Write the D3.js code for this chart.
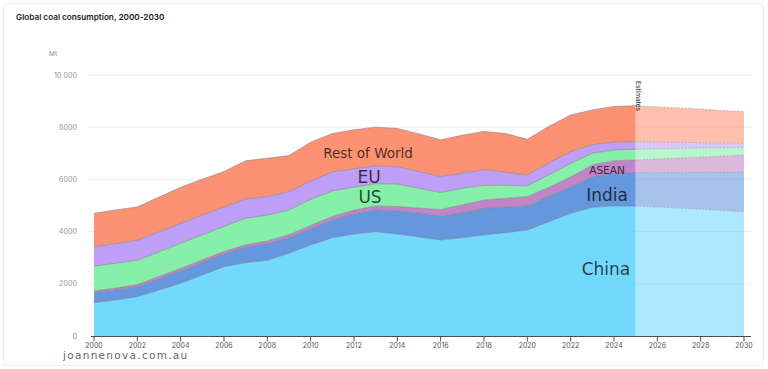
<!DOCTYPE html>
<html><head><meta charset="utf-8">
<script src="https://cdn.jsdelivr.net/npm/d3@7"></script>
<style>
html,body{margin:0;padding:0;background:#fff;}
svg{display:block;}
</style></head>
<body>
<svg id="chart" width="768" height="369"></svg>
<script>
const years = d3.range(2000, 2031);
const china = [1277,1380,1506,1760,2018,2340,2656,2810,2900,3168,3487,3767,3908,3997,3908,3793,3678,3767,3870,3959,4061,4380,4700,4930,4981,4981,4940,4900,4860,4810,4764];
const india = [383,385,384,430,472,480,486,588,640,600,620,677,766,831,894,907,920,958,1022,984,920,980,1010,1175,1252,1277,1320,1365,1410,1460,1507];
const asean = [64,70,80,90,100,100,95,95,103,115,127,135,150,153,160,200,250,300,320,335,357,340,383,447,485,485,520,555,590,625,664];
const us = [956,950,932,945,959,960,958,1021,984,950,1000,980,880,850,860,760,650,640,560,500,410,480,520,450,410,409,390,365,345,320,300];
const eu = [740,755,766,766,766,755,742,741,714,701,702,728,703,689,664,638,612,570,600,500,420,450,450,330,300,294,265,235,205,175,150];
const restOfWorld = [1280,1290,1277,1330,1382,1375,1366,1456,1470,1378,1490,1468,1494,1482,1469,1444,1406,1456,1468,1481,1366,1404,1405,1330,1366,1379,1350,1320,1290,1250,1213];
const estimateStart = 2025;
const yTicks = [0,2000,4000,6000,8000,10000];
const yTickLabels = ["0","2000","4000","6000","8000","10 000"];
const xTicks = d3.range(2000, 2031, 2);
const seriesKeys = ["China","India","ASEAN","US","EU","Rest of World"];
const seriesValues = [china, india, asean, us, eu, restOfWorld];
const colors = ["#72d9fd","#6597dc","#c185c6","#87f0a8","#bf9ef5","#fd9272"];

const table = years.map((yr, i) => {
  const row = {year: yr};
  seriesKeys.forEach((k, j) => row[k] = seriesValues[j][i]);
  return row;
});

const svg = d3.select("#chart");
const x = d3.scaleLinear().domain([2000, 2030]).range([94, 744]);
const y = d3.scaleLinear().domain([0, 10000]).range([336, 75]);

svg.append("rect").attr("x",3.5).attr("y",3.5).attr("width",760).attr("height",362)
  .attr("rx",4).attr("fill","none").attr("stroke","#ececec");

svg.append("text").attr("x",16).attr("y",20)
  .attr("font-family","Inter, 'Open Sans', sans-serif").attr("font-size",8.2).attr("font-weight",600)
  .attr("fill","#222").text("Global coal consumption, 2000-2030");

svg.append("text").attr("x",49).attr("y",56)
  .attr("font-family","Inter, sans-serif").attr("font-size",6.5).attr("fill","#888").text("Mt");

const grid = svg.append("g");
grid.selectAll("line").data(yTicks.filter(d=>d>0)).join("line")
  .attr("x1",88).attr("x2",752).attr("y1",d=>y(d)).attr("y2",d=>y(d))
  .attr("stroke","#ececec").attr("stroke-width",1);
grid.selectAll("text").data(yTicks).join("text")
  .attr("x",77).attr("y",d=>y(d)).attr("dy","0.35em").attr("text-anchor","end")
  .attr("font-family","Inter, sans-serif").attr("font-size",7.2).attr("fill","#999")
  .text((d,i)=>yTickLabels[i]);

const stack = d3.stack().keys(seriesKeys);
const layers = stack(table);

const area = d3.area().x(d=>x(d.data.year)).y0(d=>y(d[0])).y1(d=>y(d[1])).curve(d3.curveLinear);
const topLine = d3.line().x(d=>x(d.data.year)).y(d=>y(d[1])).curve(d3.curveLinear);

const solid = layers.map(l => l.filter(d=>d.data.year <= estimateStart));
const est = layers.map(l => l.filter(d=>d.data.year >= estimateStart));

const gSolid = svg.append("g");
solid.forEach((l, i) => {
  gSolid.append("path").attr("d", area(l)).attr("fill", colors[i]);
});
solid.forEach((l, i) => {
  gSolid.append("path").attr("d", topLine(l)).attr("fill","none").attr("stroke","#7b7b8f").attr("stroke-width",0.7).attr("stroke-opacity",0.8);
});

const gEst = svg.append("g");
est.forEach((l, i) => {
  gEst.append("path").attr("d", area(l)).attr("fill", colors[i]).attr("fill-opacity",0.58);
});
est.forEach((l, i) => {
  gEst.append("path").attr("d", topLine(l)).attr("fill","none").attr("stroke","#8a8a9a")
    .attr("stroke-width",0.7).attr("stroke-dasharray","2,1.5").attr("stroke-opacity",0.7);
});

const xAxis = svg.append("g");
xAxis.append("line").attr("x1",91).attr("x2",751).attr("y1",336.5).attr("y2",336.5)
  .attr("stroke","#4a4f57").attr("stroke-width",1.2);
xAxis.selectAll(".tk").data(xTicks).join("line").attr("class","tk")
  .attr("x1",d=>x(d)).attr("x2",d=>x(d)).attr("y1",336).attr("y2",341.5)
  .attr("stroke","#4a4f57").attr("stroke-width",1);
xAxis.selectAll("text").data(xTicks).join("text")
  .attr("x",d=>x(d)).attr("y",347.5).attr("text-anchor","middle")
  .attr("font-family","Inter, sans-serif").attr("font-size",7).attr("fill","#555").text(d=>d);

svg.append("text").attr("transform",`translate(${x(estimateStart)+0.5},81) rotate(90)`)
  .attr("font-family","Inter, sans-serif").attr("font-size",6.6).attr("fill","#333").text("Estimates");

const lab = svg.append("g").attr("font-family","'DejaVu Sans', Verdana, sans-serif").attr("fill","#000").attr("fill-opacity",0.72).attr("text-anchor","middle");
lab.append("text").attr("x",368).attr("y",158).attr("font-size",13.5).text("Rest of World");
lab.append("text").attr("x",369).attr("y",183).attr("font-size",17).text("EU");
lab.append("text").attr("x",370).attr("y",203).attr("font-size",17).text("US");
lab.append("text").attr("x",607).attr("y",174).attr("font-size",10.5).text("ASEAN");
lab.append("text").attr("x",607).attr("y",201).attr("font-size",17).text("India");
lab.append("text").attr("x",606).attr("y",275).attr("font-size",17).text("China");

svg.append("text").attr("x",63).attr("y",359).attr("font-family","'DejaVu Sans', sans-serif")
  .attr("font-size",10.5).attr("letter-spacing",1.3).attr("fill","#666").text("joannenova.com.au");
</script>
</body></html>
